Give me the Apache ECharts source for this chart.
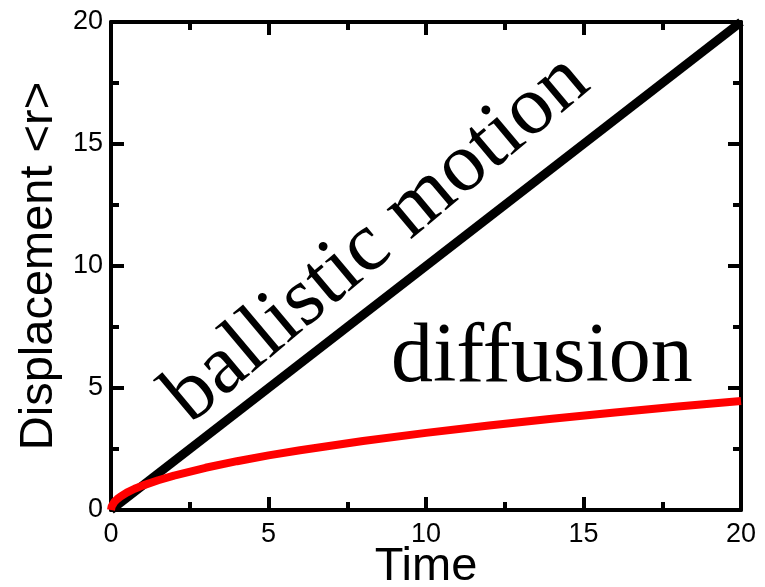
<!DOCTYPE html>
<html>
<head>
<meta charset="utf-8">
<script src="https://cdn.jsdelivr.net/npm/echarts@6/dist/echarts.min.js"></script>
<style>html,body{margin:0;padding:0;background:#fff;}#c{width:765px;height:587px;}</style>
</head>
<body>
<div id="c"></div>
<script>
// ---- data ----
const ballisticTime = [0, 20];
const ballisticDisp = [0, 20];
const diffusionTime = [0, 0.02, 0.05, 0.1, 0.2, 0.3, 0.5, 0.75, 1, 1.5, 2, 3, 4, 5, 6, 8, 10, 12, 14, 16, 18, 20];
const diffusionDisp = [0, 0.14, 0.22, 0.32, 0.45, 0.55, 0.71, 0.87, 1.0, 1.22, 1.41, 1.73, 2.0, 2.24, 2.45, 2.83, 3.16, 3.46, 3.74, 4.0, 4.24, 4.47];
const xTicks = [0, 5, 10, 15, 20];
const yTicks = [0, 5, 10, 15, 20];
const xTitle = 'Time';
const yTitle = 'Displacement <r>';
const annotationTexts = ['ballistic motion', 'diffusion'];
const annotationAnchors = [[8.45, 11.1], [13.68, 6.2]];

const zip = (a, b) => a.map((v, i) => [v, b[i]]);
const SANS = '"Liberation Sans", Arial, Helvetica, sans-serif';
const SERIF = '"Liberation Serif", "Times New Roman", serif';

function axisCommon(min, max, interval) {
  return {
    type: 'value', min: min, max: max, interval: interval,
    axisLine: { show: true, onZero: false, lineStyle: { color: '#000', width: 4 } },
    axisTick: { show: true, inside: true, length: 13, lineStyle: { color: '#000', width: 4 } },
    minorTick: { show: true, splitNumber: 2, length: 8, lineStyle: { color: '#000', width: 4 } },
    splitLine: { show: false },
    minorSplitLine: { show: false }
  };
}

const xMin = xTicks[0], xMax = xTicks[xTicks.length - 1], xInt = xTicks[1] - xTicks[0];
const yMin = yTicks[0], yMax = yTicks[yTicks.length - 1], yInt = yTicks[1] - yTicks[0];

const chart = echarts.init(document.getElementById('c'), null, { renderer: 'canvas' });
chart.setOption({
  backgroundColor: '#fff',
  animation: false,
  grid: { left: 111, right: 24, top: 22, bottom: 77, containLabel: false, outerBoundsMode: 'none' },
  xAxis: [
    Object.assign(axisCommon(xMin, xMax, xInt), {
      position: 'bottom',
      axisLabel: { show: true, color: '#000', fontSize: 27, fontFamily: SANS, margin: 11 },
      name: xTitle, nameLocation: 'middle', nameGap: 34, nameMoveOverlap: false,
      nameTextStyle: { color: '#000', fontSize: 47, fontFamily: SANS }
    }),
    Object.assign(axisCommon(xMin, xMax, xInt), {
      position: 'top', axisLabel: { show: false }
    })
  ],
  yAxis: [
    Object.assign(axisCommon(yMin, yMax, yInt), {
      position: 'left',
      axisLabel: { show: true, color: '#000', fontSize: 27, fontFamily: SANS, margin: 8 },
      name: yTitle, nameLocation: 'middle', nameGap: 47, nameRotate: 90,
      nameTextStyle: { color: '#000', fontSize: 47, fontFamily: SANS }
    }),
    Object.assign(axisCommon(yMin, yMax, yInt), {
      position: 'right', axisLabel: { show: false }
    })
  ],
  series: [
    {
      type: 'line', name: 'ballistic', data: zip(ballisticTime, ballisticDisp),
      showSymbol: false, symbol: 'none', clip: false,
      lineStyle: { color: '#000', width: 9 }, z: 3
    },
    {
      type: 'line', name: 'diffusion', data: zip(diffusionTime, diffusionDisp),
      showSymbol: false, symbol: 'none', clip: false, smooth: false,
      lineStyle: { color: '#f00', width: 8 }, z: 4
    }
  ]
});

const p0 = chart.convertToPixel({ gridIndex: 0 }, annotationAnchors[0]);
const p1 = chart.convertToPixel({ gridIndex: 0 }, annotationAnchors[1]);
chart.setOption({
  graphic: [
    {
      type: 'text', x: p0[0], y: p0[1], rotation: 40 * Math.PI / 180, z: 10,
      style: { text: annotationTexts[0], fill: '#000', font: '84px ' + SERIF, align: 'center', verticalAlign: 'middle' }
    },
    {
      type: 'text', x: p1[0], y: p1[1], z: 10,
      style: { text: annotationTexts[1], fill: '#000', font: '84px ' + SERIF, align: 'center', verticalAlign: 'middle' }
    }
  ]
});
</script>
</body>
</html>
